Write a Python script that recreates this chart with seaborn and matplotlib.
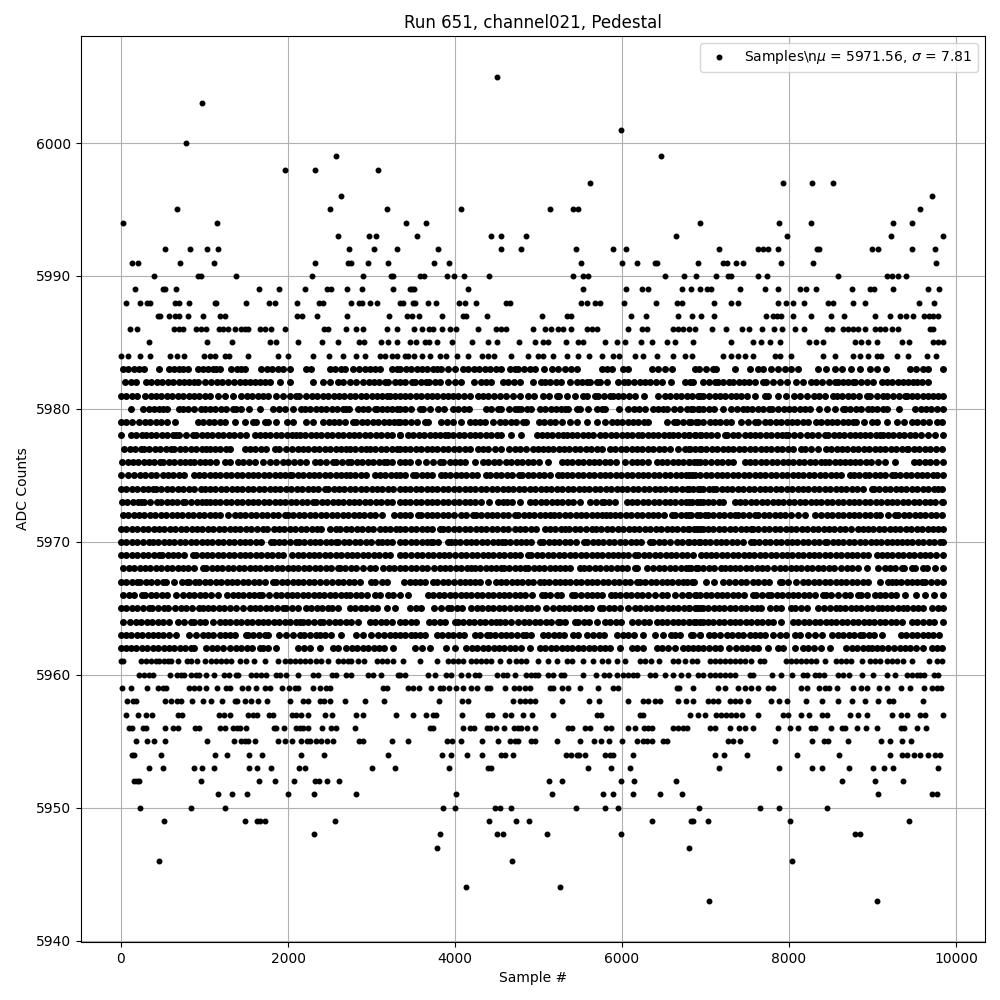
import pandas as pd
import matplotlib
matplotlib.use("Agg")
import matplotlib.pyplot as plt
import seaborn as sns

# Values. Sparse rows are dot by dot, the dense rows
# (5962-5983) are estimates that follow the runs and gaps seen in each row.

row_6005 = [4504]
row_6003 = [968]
row_6001 = [5992]
row_6000 = [776]
row_5999 = [2576, 6472]
row_5998 = [1964, 2324, 3080]
row_5997 = [5620, 7928, 8276, 8528]
row_5996 = [2636, 9716]
row_5995 = [668, 2504, 3188, 4072, 5140, 5416, 5476, 9572]
row_5994 = [20, 1148, 3412, 3652, 6932, 7880, 8264, 9248, 9476]
row_5993 = [2600, 2972, 3056, 3544, 4432, 4552, 4852, 6652, 7976, 9224, 9850]
row_5992 = [524, 824, 1028, 1160, 2732, 3032, 3308, 3796, 4552, 4792, 5452, 5896, 6052, 7160, 7628, 7688, 7748,
            7868, 8330, 8360, 8996, 9068, 9476, 9752]
row_5991 = [128, 200, 704, 1112, 2324, 2720, 2760, 2960, 3200, 3748, 3928, 5512, 6004, 6184, 6396, 6424, 6904,
            7208, 7256, 7364, 7448, 7904, 8288, 9764]
row_5990 = [392, 920, 960, 1376, 2288, 2900, 3232, 3260, 3584, 3624, 3904, 3988, 4108, 4408, 5416, 5536, 5596,
            6520, 6748, 6892, 7128, 7268, 7308, 7628, 7736, 8588, 9176, 9236, 9308, 9404]
row_5989 = [164, 500, 532, 656, 1652, 1892, 2204, 2468, 2516, 2708, 2888, 3260, 3456, 3484, 3512, 4156, 5536,
            6052, 6244, 6316, 6724, 6832, 6928, 7016, 7064, 7412, 7712, 7868, 8132, 8204, 8324, 8756, 8968, 9016,
            9248, 9668, 9800]
row_5988 = [56, 224, 308, 348, 652, 700, 812, 1124, 1136, 1496, 1772, 1844, 2108, 2372, 2420, 2756, 2852, 2892,
            2984, 3068, 3336, 3376, 3496, 3524, 3676, 3772, 4048, 4120, 4252, 4608, 4656, 5512, 5584, 5680, 5740,
            6028, 6412, 6664, 6724, 7100, 7304, 7392, 7868, 7960, 8048, 8180, 8468, 8528, 8768, 8912, 9560, 9740]
row_5987 = [440, 468, 572, 644, 692, 800, 980, 1184, 1244, 2108, 2168, 2348, 2708, 3212, 3424, 3488, 3568, 3844,
            4096, 4136, 4384, 5044, 5344, 5392, 6112, 6292, 6676, 6844, 6948, 7096, 7728, 7808, 7856, 7908, 8048,
            8264, 8504, 8660, 9032, 9212, 9328, 9400, 9480, 9616, 9680, 9728, 9788]
row_5986 = [104, 188, 632, 700, 740, 900, 960, 1020, 1172, 1220, 1280, 1364, 1436, 1484, 1520, 1664, 1724, 1796,
            1964, 2432, 2480, 2692, 2816, 2900, 3188, 3308, 3504, 3600, 3688, 3736, 3844, 3940, 4012, 4276, 4492,
            4552, 4612, 4936, 5080, 5152, 5236, 5296, 5392, 5576, 5636, 5696, 6076, 6236, 6296, 6608, 6668, 6728,
            6808, 6880, 7076, 7244, 7436, 7520, 7676, 7820, 7916, 8072, 8180, 8456, 8516, 8648, 8708, 8768, 8828,
            8912, 9028, 9088, 9148, 9228, 9308, 9688, 9728]
row_5985 = [340, 1028, 1328, 1780, 1852, 2120, 2408, 2600, 2852, 2912, 3116, 3200, 3308, 3456, 3536, 3636, 3688,
            3788, 3964, 4204, 4396, 4504, 4768, 4956, 5056, 5116, 5332, 5476, 5536, 5796, 5944, 6040, 6232, 6356,
            6544, 6640, 6856, 7308, 7568, 7664, 7772, 7896, 8240, 8320, 8408, 8788, 8868, 8948, 9056, 9352, 9436,
            9720, 9788, 9850]
row_5984 = [0, 80, 224, 344, 584, 668, 760, 992, 1060, 1120, 1244, 1292, 1520, 1880, 2000, 2300, 2492, 2660, 2816,
            2924, 3100, 3160, 3240, 3300, 3396, 3436, 3508, 3604, 3700, 3816, 3896, 4024, 4156, 4324, 4396, 4468,
            4672, 4876, 4996, 5056, 5176, 5336, 5476, 5604, 5764, 5896, 5968, 6156, 6256, 6424, 6616, 6756, 6836,
            7208, 7308, 7388, 7468, 7568, 7828, 7888, 8028, 8408, 8548, 8768, 8848, 8948, 9048, 9096, 9288, 9428,
            9648, 9760]
row_5983 = [20, 85, 150, 215, 280, 452, 580, 640, 700, 740, 800, 920, 980, 1045, 1100, 1140, 1180, 1320, 1385, 1440,
            1480, 1680, 1745, 1810, 1875, 1940, 2020, 2220, 2280, 2500, 2565, 2630, 2680, 2780, 2850, 2920, 2980, 3040,
            3100, 3240, 3300, 3340, 3410, 3476, 3540, 3605, 3670, 3735, 3790, 3836, 3916, 3996, 4096, 4160, 4225,
            4290, 4355, 4420, 4490, 4556, 4656, 4716, 4756, 4825, 4896, 4956, 5064, 5156, 5236, 5316, 5385, 5456, 5756,
            5816, 5876, 6016, 6076, 6356, 6436, 6516, 6596, 6876, 6916, 7008, 7088, 7128, 7356, 7528, 7628, 7688,
            7780, 7868, 7950, 8028, 8108, 8348, 8448, 8548, 8640, 8740, 8848, 8968, 9048, 9160, 9448, 9520, 9600, 9668,
            9848]
row_5982 = [48, 120, 180, 300, 365, 430, 495, 560, 625, 690, 755, 820, 870, 920, 1008, 1080, 1150, 1215, 1280, 1350,
            1420, 1480, 1545, 1610, 1665, 1720, 1788, 1904, 2024, 2300, 2420, 2500, 2600, 2660, 2740, 2820, 2900, 2965,
            3030, 3095, 3160, 3200, 3280, 3340, 3400, 3488, 3516, 3590, 3656, 3688, 3756, 3820, 3916, 3996, 4076, 4224,
            4308, 4376, 4436, 4576, 4640, 4710, 4776, 4936, 5028, 5076, 5140, 5205, 5268, 5376, 5456, 5520, 5576, 5616,
            5696, 5736, 5824, 5956, 6024, 6076, 6140, 6210, 6275, 6340, 6410, 6476, 6592, 6756, 6848, 6816, 6968, 7040,
            7108, 7148, 7215, 7280, 7328, 7395, 7460, 7525, 7590, 7688, 7720, 7808, 7888, 7976, 8080, 8168, 8264, 8328,
            8400, 8475, 8548, 8588, 8650, 8710, 8768, 8788, 8860, 8935, 9008, 9108, 9168, 9235, 9300, 9365, 9430, 9488,
            9528, 9588, 9668]
row_5981 = [0, 65, 130, 188, 292, 355, 420, 485, 550, 615, 680, 745, 810, 875, 940, 1005, 1070, 1160, 1240, 1340,
            1440, 1505, 1570, 1635, 1700, 1765, 1860, 1940, 2020, 2100, 2132, 2220, 2285, 2350, 2415, 2480, 2545, 2610,
            2675, 2740, 2805, 2870, 2935, 3000, 3065, 3130, 3180, 3220, 3280, 3340, 3400, 3465, 3530, 3595, 3660, 3725,
            3790, 3855, 3920, 3976, 4040, 4110, 4175, 4276, 4336, 4396, 4470, 4540, 4616, 4696, 4780, 4876, 4948, 5056,
            5130, 5216, 5248, 5336, 5436, 5536, 5576, 5676, 5716, 5785, 5856, 5896, 5956, 6008, 6085, 6160, 6268, 6436,
            6516, 6580, 6645, 6710, 6775, 6840, 6905, 6936, 6970, 7040, 7108, 7168, 7235, 7300, 7365, 7430, 7496, 7588,
            7708, 7748, 7868, 7968, 8060, 8136, 8212, 8296, 8365, 8430, 8524, 8576, 8640, 8705, 8770, 8835, 8928, 8972,
            9048, 9128, 9176, 9245, 9315, 9388, 9416, 9468, 9535, 9600, 9665, 9728, 9788, 9850]
row_5980 = [120, 260, 332, 395, 452, 500, 552, 692, 740, 805, 870, 960, 1000, 1065, 1130, 1195, 1260, 1340, 1372, 1440,
            1532, 1664, 1820, 1890, 1960, 2060, 2152, 2200, 2265, 2330, 2395, 2460, 2525, 2590, 2655, 2700, 2732, 2840,
            2900, 2960, 3040, 3060, 3125, 3188, 3240, 3300, 3340, 3405, 3470, 3576, 3616, 3696, 3796, 3868, 3976, 4040,
            4105, 4168, 4368, 4436, 4516, 4556, 4648, 4716, 4756, 4796, 4860, 4912, 5016, 5080, 5145, 5210, 5275, 5316,
            5356, 5456, 5496, 5596, 5696, 5756, 5796, 5968, 6076, 6140, 6205, 6270, 6376, 6436, 6496, 6536, 6620, 6696,
            6776, 6850, 6916, 6828, 6908, 6975, 7040, 7105, 7208, 7308, 7380, 7448, 7496, 7560, 7625, 7690, 7755, 7800,
            7868, 7935, 8000, 8065, 8130, 8188, 8256, 8360, 8456, 8548, 8648, 8668, 8735, 8800, 8865, 8948, 8988, 9055,
            9120, 9168, 9320, 9508, 9575, 9640, 9705, 9770, 9850]
row_5979 = [0, 65, 132, 220, 285, 348, 420, 485, 550, 652, 920, 985, 1050, 1115, 1180, 1240, 1360, 1484, 1580, 1616,
            1720, 1760, 1860, 1988, 2060, 2212, 2300, 2420, 2485, 2550, 2615, 2680, 2780, 2820, 2885, 2950, 3015, 3080,
            3145, 3210, 3275, 3320, 3336, 3400, 3475, 3544, 3636, 3676, 3832, 3900, 3976, 4072, 4176, 4240, 4296, 4356,
            4456, 4536, 4600, 4665, 4730, 4816, 4856, 5004, 5070, 5135, 5200, 5276, 5376, 5456, 5576, 5696, 5796, 5876,
            5940, 6005, 6070, 6136, 6196, 6260, 6316, 6536, 6628, 6656, 6736, 6824, 6904, 6808, 6888, 6970, 7048, 7108,
            7175, 7240, 7308, 7428, 7510, 7588, 7632, 7708, 7775, 7840, 7905, 7970, 8035, 8100, 8165, 8228, 8320, 8385,
            8450, 8515, 8580, 8645, 8710, 8768, 8808, 8900, 8988, 9048, 9168, 9288, 9380, 9468, 9528, 9600, 9680, 9768,
            9836]
row_5978 = [0, 120, 185, 250, 300, 360, 425, 490, 555, 620, 660, 700, 780, 860, 900, 965, 1030, 1095, 1160, 1225, 1290,
            1355, 1420, 1500, 1600, 1660, 1725, 1790, 1855, 1920, 1985, 2050, 2100, 2140, 2205, 2270, 2335, 2400, 2465,
            2530, 2595, 2660, 2725, 2790, 2855, 2920, 2985, 3050, 3115, 3180, 3245, 3340, 3336, 3436, 3500, 3565, 3630,
            3695, 3760, 3825, 3876, 3916, 3980, 4045, 4110, 4175, 4240, 4305, 4370, 4435, 4500, 4556, 4676, 4796, 4976,
            5036, 5096, 5165, 5230, 5296, 5336, 5400, 5465, 5530, 5595, 5656, 5736, 5800, 5865, 5930, 5995, 6060, 6125,
            6196, 6236, 6316, 6376, 6436, 6500, 6565, 6608, 6676, 6740, 6805, 6870, 6936, 6808, 6875, 6940, 7005, 7070,
            7135, 7228, 7256, 7325, 7390, 7468, 7528, 7593, 7658, 7723, 7788, 7853, 7918, 7968, 7988, 8055, 8128, 8216,
            8280, 8345, 8428, 8468, 8533, 8598, 8663, 8728, 8793, 8848, 8908, 8975, 9040, 9088, 9120, 9185, 9250, 9315,
            9380, 9445, 9510, 9575, 9668, 9748, 9848]
row_5977 = [40, 105, 170, 235, 280, 340, 405, 470, 535, 600, 640, 705, 770, 835, 900, 965, 1020, 1060, 1125, 1190, 1255,
            1300, 1480, 1545, 1610, 1675, 1740, 1840, 1892, 1972, 2044, 2124, 2180, 2245, 2310, 2375, 2440, 2505, 2570,
            2635, 2700, 2740, 2805, 2870, 2940, 2980, 3045, 3110, 3175, 3240, 3300, 3336, 3400, 3465, 3530, 3595, 3660,
            3725, 3790, 3855, 3920, 3985, 4050, 4115, 4180, 4276, 4336, 4396, 4476, 4556, 4648, 4716, 4784, 4850, 4936,
            4996, 5055, 5116, 5176, 5240, 5305, 5370, 5435, 5500, 5565, 5630, 5695, 5756, 5856, 5920, 5985, 6050, 6115,
            6180, 6245, 6310, 6375, 6440, 6505, 6570, 6676, 6756, 6816, 6880, 6936, 6808, 6945, 7010, 7075, 7140, 7205,
            7270, 7335, 7400, 7465, 7530, 7595, 7660, 7725, 7790, 7855, 7920, 7985, 8050, 8148, 8196, 8268, 8348, 8440,
            8505, 8570, 8635, 8700, 8765, 8830, 8895, 8960, 9025, 9090, 9155, 9220, 9285, 9350, 9408, 9428, 9495, 9560,
            9625, 9690, 9755, 9828]
row_5976 = [8, 80, 140, 205, 270, 335, 400, 465, 508, 572, 640, 705, 770, 828, 880, 945, 1010, 1060, 1136, 1240, 1300,
            1400, 1465, 1530, 1600, 1700, 1780, 1860, 1940, 2005, 2070, 2140, 2220, 2320, 2380, 2460, 2540, 2580, 2650,
            2720, 2760, 2825, 2890, 2955, 3020, 3085, 3150, 3180, 3240, 3340, 3400, 3465, 3556, 3648, 3735, 3816, 3856,
            3935, 3995, 4056, 4116, 4236, 4336, 4400, 4465, 4530, 4616, 4676, 4740, 4805, 4870, 4936, 5008, 5116, 5276,
            5340, 5405, 5470, 5535, 5600, 5665, 5730, 5795, 5860, 5925, 6036, 6116, 6180, 6245, 6310, 6416, 6476, 6540,
            6605, 6670, 6735, 6800, 6865, 6936, 6808, 6900, 6988, 7068, 7135, 7200, 7265, 7328, 7468, 7533, 7598, 7663,
            7728, 7793, 7858, 7923, 7988, 8053, 8118, 8183, 8248, 8313, 8378, 8428, 8480, 8545, 8610, 8675, 8728, 8788,
            8853, 8918, 8983, 9068, 9148, 9268, 9496, 9560, 9625, 9690, 9755, 9848]
row_5975 = [0, 80, 160, 225, 290, 355, 420, 500, 560, 625, 690, 755, 880, 930, 995, 1060, 1125, 1190, 1255, 1320, 1385,
            1450, 1515, 1580, 1645, 1710, 1775, 1840, 1905, 1970, 2020, 2052, 2117, 2182, 2247, 2312, 2377, 2442, 2507,
            2572, 2637, 2700, 2740, 2805, 2870, 2935, 3040, 3100, 3165, 3230, 3295, 3340, 3400, 3496, 3536, 3600, 3665,
            3730, 3836, 3876, 3941, 4006, 4071, 4136, 4201, 4266, 4376, 4424, 4489, 4554, 4619, 4684, 4768, 4808, 4873,
            4938, 5003, 5068, 5133, 5236, 5276, 5341, 5406, 5471, 5536, 5601, 5666, 5731, 5796, 5861, 5926, 5991, 6056,
            6121, 6186, 6251, 6316, 6381, 6446, 6511, 6576, 6641, 6706, 6771, 6836, 6936, 6808, 6873, 7003, 7068, 7133,
            7198, 7263, 7328, 7393, 7458, 7523, 7588, 7653, 7718, 7783, 7848, 7913, 7978, 8043, 8108, 8173, 8238, 8303,
            8368, 8433, 8498, 8563, 8628, 8728, 8776, 8840, 8908, 8960, 9025, 9090, 9155, 9228, 9268, 9333, 9398, 9463,
            9528, 9593, 9658, 9723, 9768, 9840]
row_5974 = [0, 65, 130, 195, 260, 325, 388, 420, 485, 550, 615, 680, 745, 810, 875, 960, 1000, 1065, 1130, 1195, 1260,
            1325, 1390, 1455, 1520, 1585, 1650, 1715, 1780, 1845, 1910, 1975, 2040, 2105, 2170, 2235, 2300, 2365, 2440,
            2480, 2545, 2610, 2675, 2740, 2805, 2870, 2935, 3000, 3065, 3130, 3195, 3260, 3340, 3400, 3465, 3530, 3595,
            3660, 3725, 3790, 3855, 3920, 3985, 4050, 4115, 4180, 4245, 4310, 4375, 4440, 4505, 4570, 4635, 4700, 4765,
            4830, 4895, 4960, 5025, 5090, 5155, 5220, 5285, 5350, 5415, 5480, 5545, 5610, 5675, 5740, 5805, 5870, 5935,
            6000, 6065, 6130, 6195, 6260, 6325, 6390, 6455, 6520, 6585, 6650, 6715, 6780, 6845, 6936, 6808, 6910, 6975,
            7040, 7088, 7128, 7193, 7258, 7323, 7388, 7453, 7518, 7583, 7648, 7713, 7778, 7843, 7908, 7973, 8038, 8103,
            8168, 8233, 8298, 8363, 8428, 8493, 8558, 8623, 8688, 8753, 8818, 8883, 8988, 9016, 9081, 9146, 9211, 9276,
            9341, 9406, 9471, 9536, 9601, 9666, 9731, 9788, 9836]
row_5973 = [12, 75, 140, 205, 240, 280, 350, 428, 480, 545, 610, 675, 740, 772, 840, 905, 970, 1020, 1060, 1125, 1190,
            1255, 1320, 1385, 1450, 1515, 1580, 1645, 1710, 1775, 1840, 1905, 1970, 2035, 2100, 2165, 2230, 2300, 2340,
            2405, 2470, 2535, 2600, 2660, 2725, 2790, 2855, 2920, 2985, 3050, 3115, 3180, 3245, 3340, 3400, 3465, 3530,
            3595, 3660, 3725, 3790, 3855, 3920, 3985, 4050, 4115, 4180, 4245, 4310, 4408, 4516, 4570, 4624, 4684, 4780,
            4896, 4961, 5026, 5091, 5156, 5221, 5286, 5351, 5416, 5496, 5616, 5685, 5756, 5784, 5850, 5916, 6056, 6120,
            6185, 6250, 6315, 6380, 6445, 6510, 6575, 6640, 6705, 6770, 6835, 6936, 6808, 6900, 6965, 7030, 7095, 7160,
            7208, 7348, 7413, 7478, 7543, 7608, 7673, 7738, 7803, 7868, 7933, 7998, 8063, 8128, 8193, 8258, 8323, 8388,
            8453, 8518, 8583, 8648, 8713, 8778, 8843, 8908, 8973, 9038, 9103, 9168, 9233, 9298, 9363, 9428, 9493, 9558,
            9623, 9688, 9753, 9828, 9850]
row_5972 = [20, 85, 150, 215, 280, 345, 410, 475, 540, 605, 670, 735, 800, 865, 930, 995, 1060, 1125, 1190, 1280, 1360,
            1425, 1490, 1555, 1620, 1685, 1750, 1815, 1880, 1960, 2000, 2065, 2130, 2195, 2260, 2325, 2400, 2460, 2525,
            2590, 2655, 2720, 2785, 2850, 2915, 2980, 3045, 3120, 3268, 3340, 3400, 3465, 3556, 3596, 3660, 3725, 3790,
            3855, 3920, 3985, 4076, 4128, 4216, 4248, 4313, 4378, 4443, 4508, 4573, 4638, 4716, 4756, 4821, 4886, 4951,
            5016, 5081, 5136, 5184, 5249, 5314, 5379, 5444, 5509, 5574, 5639, 5704, 5756, 5808, 5856, 5916, 5981, 6046,
            6111, 6176, 6241, 6306, 6371, 6436, 6501, 6596, 6636, 6701, 6766, 6831, 6936, 6808, 6896, 6988, 7028, 7093,
            7158, 7223, 7288, 7348, 7388, 7453, 7518, 7588, 7632, 7697, 7762, 7827, 7892, 7957, 8022, 8108, 8188, 8312,
            8388, 8453, 8518, 8583, 8648, 8713, 8778, 8843, 8908, 8973, 9038, 9088, 9188, 9268, 9308, 9373, 9438, 9503,
            9568, 9633, 9698, 9763, 9828]
row_5971 = [0, 65, 130, 195, 260, 325, 390, 455, 520, 585, 650, 715, 780, 845, 910, 975, 1040, 1105, 1170, 1235, 1300,
            1365, 1430, 1495, 1560, 1625, 1700, 1748, 1828, 1893, 1958, 2023, 2088, 2153, 2218, 2283, 2348, 2400, 2500,
            2572, 2628, 2693, 2758, 2823, 2888, 2953, 3018, 3100, 3160, 3225, 3290, 3340, 3405, 3470, 3535, 3600, 3665,
            3730, 3816, 3856, 3921, 3986, 4051, 4116, 4181, 4246, 4311, 4376, 4441, 4506, 4571, 4636, 4716, 4776, 4841,
            4906, 4971, 5076, 5136, 5201, 5266, 5316, 5368, 5433, 5498, 5563, 5636, 5688, 5753, 5818, 5883, 5948, 6013,
            6078, 6143, 6208, 6273, 6338, 6403, 6468, 6533, 6598, 6663, 6728, 6793, 6858, 6936, 6808, 6900, 6965, 7030,
            7095, 7160, 7225, 7290, 7355, 7420, 7485, 7548, 7568, 7633, 7698, 7763, 7828, 7893, 7958, 8023, 8088, 8153,
            8218, 8283, 8348, 8413, 8478, 8543, 8608, 8673, 8738, 8828, 8880, 8945, 9010, 9075, 9140, 9205, 9270, 9335,
            9400, 9465, 9530, 9595, 9660, 9725, 9790, 9850]
row_5970 = [0, 65, 130, 195, 260, 332, 380, 445, 510, 575, 640, 705, 770, 835, 900, 965, 1030, 1095, 1160, 1225, 1290,
            1355, 1420, 1485, 1550, 1615, 1680, 1800, 1828, 1893, 1958, 2023, 2100, 2128, 2193, 2258, 2323, 2388, 2453,
            2518, 2572, 2604, 2669, 2734, 2799, 2864, 2929, 2994, 3080, 3120, 3185, 3250, 3340, 3405, 3470, 3535, 3600,
            3665, 3716, 3736, 3801, 3916, 3956, 3996, 4061, 4126, 4191, 4256, 4321, 4386, 4451, 4516, 4568, 4596, 4661,
            4726, 4791, 4856, 4908, 5016, 5056, 5121, 5186, 5251, 5316, 5381, 5446, 5544, 5584, 5648, 5713, 5778, 5843,
            5908, 5973, 6038, 6103, 6168, 6233, 6336, 6376, 6441, 6506, 6571, 6664, 6716, 6796, 6860, 6936, 6808, 6925,
            6990, 7055, 7120, 7185, 7250, 7315, 7380, 7445, 7540, 7580, 7645, 7710, 7775, 7840, 7905, 7970, 8035, 8100,
            8165, 8230, 8295, 8360, 8428, 8456, 8521, 8586, 8651, 8716, 8781, 8846, 8911, 8976, 9041, 9106, 9171, 9236,
            9296, 9348, 9413, 9478, 9543, 9608, 9673, 9738, 9803, 9848]
row_5969 = [0, 65, 130, 195, 260, 325, 390, 460, 492, 557, 622, 687, 752, 868, 900, 965, 1030, 1095, 1160, 1225, 1290,
            1355, 1420, 1485, 1550, 1615, 1680, 1745, 1810, 1875, 1940, 2052, 2117, 2182, 2247, 2312, 2377, 2442, 2507,
            2572, 2637, 2702, 2767, 2832, 2897, 2962, 3027, 3092, 3157, 3222, 3340, 3405, 3476, 3544, 3609, 3674, 3739,
            3804, 3869, 3934, 3999, 4076, 4136, 4201, 4266, 4331, 4396, 4456, 4524, 4589, 4654, 4719, 4784, 4876, 4916,
            4981, 5046, 5111, 5176, 5241, 5306, 5376, 5441, 5506, 5571, 5636, 5701, 5766, 5831, 5896, 5956, 6008, 6073,
            6156, 6196, 6261, 6326, 6391, 6456, 6521, 6586, 6651, 6716, 6776, 6856, 6948, 7000, 7065, 7130, 7195, 7260,
            7325, 7390, 7455, 7520, 7585, 7650, 7715, 7780, 7845, 7910, 7975, 8040, 8105, 8170, 8235, 8300, 8365, 8430,
            8495, 8560, 8625, 8690, 8755, 8820, 8885, 8950, 9048, 9108, 9173, 9238, 9303, 9368, 9433, 9498, 9563, 9628,
            9693, 9758, 9850]
row_5968 = [20, 92, 157, 222, 287, 352, 417, 482, 547, 612, 677, 742, 807, 872, 980, 1020, 1085, 1150, 1215, 1280, 1345,
            1410, 1475, 1540, 1605, 1670, 1735, 1800, 1865, 1930, 1995, 2060, 2125, 2190, 2255, 2320, 2385, 2450, 2515,
            2600, 2620, 2685, 2750, 2815, 2900, 2980, 3040, 3140, 3205, 3270, 3340, 3405, 3470, 3535, 3600, 3665, 3744,
            3816, 3881, 3946, 4011, 4076, 4141, 4196, 4236, 4301, 4366, 4431, 4496, 4556, 4584, 4649, 4714, 4779, 4836,
            4876, 4941, 5006, 5071, 5136, 5201, 5256, 5316, 5381, 5496, 5544, 5609, 5674, 5739, 5804, 5869, 5934, 5999,
            6064, 6156, 6184, 6304, 6376, 6441, 6506, 6571, 6636, 6701, 6766, 6831, 6896, 6808, 6888, 6908, 6973, 7038,
            7103, 7188, 7228, 7293, 7356, 7416, 7481, 7546, 7611, 7676, 7741, 7820, 7888, 7953, 8018, 8083, 8148, 8213,
            8278, 8343, 8408, 8473, 8538, 8628, 8693, 8758, 8823, 8928, 9068, 9148, 9208, 9273, 9348, 9376, 9468, 9508,
            9600, 9656, 9748, 9850]
row_5967 = [0, 65, 130, 188, 232, 297, 362, 427, 500, 540, 632, 728, 793, 820, 888, 940, 1005, 1070, 1135, 1200, 1265,
            1330, 1395, 1460, 1525, 1590, 1655, 1720, 1820, 1860, 1925, 1990, 2055, 2120, 2185, 2250, 2315, 2380, 2460,
            2532, 2597, 2662, 2727, 2792, 2857, 2992, 3040, 3120, 3188, 3384, 3456, 3520, 3584, 3636, 3736, 3788, 3853,
            3918, 3983, 4056, 4116, 4184, 4236, 4301, 4396, 4496, 4548, 4613, 4678, 4743, 4808, 4873, 4938, 5016, 5064,
            5129, 5194, 5256, 5316, 5381, 5446, 5511, 5576, 5641, 5706, 5771, 5836, 5901, 5966, 6031, 6096, 6176, 6216,
            6281, 6346, 6411, 6476, 6536, 6601, 6666, 6731, 6784, 6844, 6868, 7008, 7100, 7208, 7280, 7356, 7420, 7488,
            7568, 7633, 7698, 7763, 7888, 7920, 7985, 8088, 8168, 8233, 8298, 8363, 8428, 8493, 8558, 8623, 8688, 8753,
            8818, 8883, 8948, 9088, 9188, 9228, 9280, 9345, 9410, 9468, 9528, 9588, 9628, 9700, 9775, 9850]
row_5966 = [28, 93, 158, 252, 292, 357, 422, 487, 552, 660, 748, 813, 878, 943, 1008, 1073, 1160, 1272, 1337, 1402,
            1467, 1532, 1597, 1652, 1688, 1772, 1852, 1917, 1982, 2047, 2112, 2177, 2242, 2307, 2372, 2437, 2502, 2567,
            2632, 2697, 2740, 2812, 2877, 2942, 3040, 3100, 3200, 3260, 3340, 3436, 3676, 3741, 3806, 3871, 3936, 4001,
            4066, 4131, 4196, 4261, 4326, 4391, 4456, 4521, 4586, 4651, 4716, 4781, 4836, 4928, 5036, 5076, 5141, 5216,
            5268, 5396, 5436, 5505, 5576, 5636, 5696, 5756, 5864, 5916, 5981, 6046, 6111, 6176, 6241, 6306, 6396, 6476,
            6541, 6636, 6716, 6796, 6888, 6808, 6873, 6938, 7003, 7068, 7133, 7198, 7263, 7328, 7393, 7458, 7568, 7600,
            7680, 7748, 7788, 7853, 7918, 7983, 8048, 8113, 8178, 8243, 8308, 8408, 8448, 8508, 8588, 8668, 8728, 8828,
            8868, 8928, 9028, 9088, 9153, 9218, 9283, 9388, 9520, 9628, 9740, 9848]
row_5965 = [0, 65, 130, 195, 260, 340, 372, 445, 520, 560, 652, 717, 782, 847, 932, 980, 1040, 1105, 1170, 1235, 1300,
            1380, 1460, 1540, 1605, 1670, 1735, 1800, 1865, 1940, 1980, 2045, 2120, 2220, 2280, 2345, 2410, 2475, 2532,
            2604, 2740, 2805, 2870, 2935, 3000, 3060, 3180, 3280, 3464, 3528, 3596, 3748, 3830, 3916, 3956, 4021, 4086,
            4196, 4264, 4329, 4394, 4459, 4524, 4589, 4654, 4736, 4796, 4864, 4916, 4976, 5088, 5176, 5241, 5306, 5371,
            5436, 5501, 5566, 5631, 5736, 5776, 5841, 5906, 5971, 6076, 6156, 6221, 6286, 6351, 6416, 6481, 6546, 6611,
            6676, 6741, 6806, 6871, 6936, 6808, 6901, 6966, 7031, 7096, 7161, 7226, 7291, 7356, 7421, 7486, 7551, 7616,
            7668, 7768, 7840, 7905, 8028, 8076, 8148, 8213, 8348, 8420, 8488, 8568, 8608, 8673, 8738, 8803, 8868, 8928,
            8993, 9068, 9108, 9173, 9238, 9303, 9368, 9416, 9481, 9546, 9608, 9708, 9788, 9848]
row_5964 = [28, 108, 180, 245, 310, 375, 440, 505, 570, 680, 760, 840, 880, 945, 1010, 1100, 1180, 1245, 1310, 1375,
            1440, 1505, 1570, 1635, 1700, 1765, 1830, 1895, 1960, 2025, 2090, 2140, 2180, 2245, 2310, 2380, 2420, 2490,
            2560, 2628, 2693, 2758, 2840, 2980, 3045, 3110, 3175, 3240, 3340, 3405, 3476, 3536, 3688, 3753, 3818, 3883,
            3996, 4036, 4101, 4166, 4231, 4296, 4361, 4426, 4496, 4536, 4601, 4666, 4756, 4824, 4889, 4954, 5019, 5084,
            5149, 5236, 5256, 5321, 5436, 5476, 5541, 5606, 5696, 5796, 5861, 5926, 5991, 6116, 6196, 6261, 6326, 6416,
            6476, 6541, 6606, 6671, 6736, 6801, 6866, 6936, 6808, 6888, 6968, 7028, 7093, 7158, 7223, 7288, 7353, 7418,
            7483, 7548, 7613, 7678, 7743, 7808, 7908, 8048, 8113, 8178, 8243, 8308, 8373, 8438, 8503, 8568, 8633, 8698,
            8763, 8828, 8893, 8958, 9023, 9088, 9153, 9218, 9283, 9348, 9468, 9536, 9608, 9673, 9738, 9850]
row_5963 = [0, 60, 125, 190, 255, 320, 385, 440, 500, 580, 660, 812, 900, 988, 1040, 1105, 1180, 1240, 1305, 1370, 1500,
            1520, 1585, 1650, 1720, 1760, 1892, 1980, 2060, 2140, 2188, 2260, 2340, 2380, 2445, 2510, 2640, 2820, 2900,
            2988, 3080, 3150, 3220, 3280, 3340, 3405, 3476, 3516, 3581, 3646, 3784, 3848, 3913, 3978, 4043, 4108, 4236,
            4296, 4384, 4416, 4481, 4546, 4611, 4676, 4741, 4816, 4856, 4916, 5056, 5116, 5181, 5246, 5311, 5416, 5476,
            5576, 5656, 5720, 5784, 5936, 6008, 6073, 6138, 6256, 6396, 6490, 6584, 6636, 6696, 6856, 6936, 6828, 6928,
            7040, 7105, 7170, 7256, 7320, 7385, 7450, 7536, 7588, 7653, 7718, 7808, 7888, 7960, 8068, 8128, 8228, 8308,
            8396, 8520, 8585, 8650, 8715, 8780, 8848, 8888, 8953, 9018, 9108, 9340, 9405, 9470, 9535, 9600, 9665, 9730,
            9800]
row_5962 = [0, 60, 120, 185, 250, 315, 380, 445, 510, 575, 640, 705, 770, 835, 880, 1020, 1085, 1150, 1220, 1308, 1373,
            1438, 1503, 1568, 1660, 1700, 1765, 1860, 2120, 2190, 2260, 2388, 2540, 2600, 2700, 2765, 2830, 2895, 2960,
            3025, 3090, 3155, 3260, 3516, 3600, 3696, 3896, 3996, 4136, 4201, 4266, 4331, 4396, 4461, 4526, 4591, 4656,
            4721, 4786, 4896, 5016, 5081, 5146, 5211, 5276, 5341, 5406, 5471, 5536, 5601, 5666, 5731, 5796, 5861, 5976,
            6116, 6176, 6256, 6416, 6480, 6545, 6636, 6736, 6795, 6856, 6908, 6973, 7038, 7108, 7168, 7280, 7368, 7433,
            7498, 7563, 7628, 7748, 7868, 7933, 8068, 8168, 8233, 8298, 8388, 8488, 8688, 8753, 8818, 8883, 8948, 8988,
            9053, 9108, 9188, 9253, 9328, 9388, 9453, 9518, 9608, 9708, 9770, 9828]
row_5961 = [0, 28, 240, 300, 360, 420, 460, 520, 560, 600, 680, 788, 840, 908, 1004, 1080, 1140, 1200, 1260, 1320, 1420,
            1500, 1596, 1728, 1880, 1960, 2020, 2080, 2140, 2200, 2260, 2340, 2400, 2480, 2600, 2660, 2720, 2760, 2840,
            2912, 3060, 3120, 3180, 3260, 3376, 3576, 3780, 3916, 3976, 4036, 4096, 4196, 4256, 4316, 4376, 4436, 4536,
            4648, 4736, 4796, 4856, 4996, 5116, 5224, 5336, 5396, 5536, 5656, 5756, 5836, 5936, 6036, 6216, 6276, 6344,
            6448, 6616, 6676, 6756, 6836, 6896, 7048, 7108, 7168, 7228, 7288, 7348, 7408, 7468, 7548, 7648, 7696, 7968,
            8028, 8088, 8148, 8208, 8268, 8328, 8428, 8568, 8628, 8688, 8748, 8876, 8968, 9028, 9088, 9168, 9228, 9288,
            9368, 9476, 9680, 9768, 9828]
row_5960 = [220, 280, 340, 380, 584, 668, 720, 760, 840, 900, 940, 1016, 1112, 1232, 1292, 1372, 1400, 1560, 1620, 1680,
            1740, 1852, 1908, 1972, 2120, 2300, 2360, 2528, 2572, 2700, 2760, 2960, 3020, 3116, 3320, 3336, 3396, 3676,
            3760, 3896, 3956, 4072, 4156, 4236, 4288, 4504, 4576, 4624, 4720, 4856, 4916, 4956, 4996, 5116, 5176, 5268,
            5308, 5528, 5688, 5784, 5848, 5944, 6008, 6076, 6136, 6184, 6336, 6400, 6520, 6616, 6712, 6796, 6904, 6968,
            7048, 7108, 7168, 7228, 7288, 7348, 7528, 7568, 7796, 7904, 8036, 8168, 8216, 8308, 8360, 8420, 8588, 8648,
            8720, 8876, 9008, 9176, 9272, 9408, 9468, 9528, 9568, 9620, 9736, 9784]
row_5959 = [8, 116, 308, 440, 500, 540, 812, 872, 932, 1016, 1148, 1260, 1304, 1448, 1520, 1616, 1720, 1780, 1928, 2012,
            2080, 2120, 2300, 2380, 2460, 2508, 3140, 3180, 3436, 3496, 3568, 3716, 3816, 3856, 3928, 4012, 4096, 4192,
            4264, 4384, 4424, 4600, 4708, 4768, 4840, 4900, 5136, 5176, 5284, 5356, 5500, 5716, 5896, 5956, 6656, 6688,
            6856, 7148, 7228, 7388, 7468, 7548, 7628, 7748, 7808, 8148, 8216, 8360, 8428, 8480, 8576, 8768, 8868, 8928,
            9080, 9168, 9336, 9452, 9620, 9708, 9768, 9816]
row_5958 = [68, 140, 180, 524, 596, 668, 720, 852, 980, 1076, 1208, 1364, 1388, 1484, 1556, 1640, 1748, 2024, 2180, 2240,
            2380, 2428, 2504, 2684, 2924, 3152, 3808, 4084, 4156, 4696, 4776, 4836, 4896, 4956, 5280, 5608, 5728, 6076,
            6256, 6316, 6396, 6456, 6668, 6768, 6856, 7028, 7088, 7148, 7288, 7348, 7408, 7508, 7784, 7880, 7976, 8204,
            8396, 8588, 8756, 8912, 9068, 9200, 9248, 9608]
row_5957 = [56, 200, 296, 368, 688, 728, 1172, 1232, 1300, 1520, 1580, 1628, 1772, 1820, 2044, 2100, 2160, 2240, 2444,
            2528, 2816, 2900, 3296, 3496, 3652, 3736, 3776, 4084, 4396, 4444, 4600, 4672, 4816, 4924, 5176, 5696, 5748,
            6216, 6248, 6820, 6904, 6988, 7128, 7188, 7248, 7308, 7368, 7436, 7628, 7928, 7988, 8144, 8240, 8396, 8456,
            8732, 8828, 8936, 9236, 9340, 9408, 9568, 9628, 9850]
row_5956 = [92, 132, 260, 300, 524, 628, 680, 884, 932, 1184, 1244, 1340, 1388, 1424, 1496, 1832, 1860, 1952, 2100, 2140,
            2180, 2240, 2408, 2516, 2576, 2804, 3696, 3736, 4096, 4180, 4228, 4384, 4416, 4496, 4588, 4708, 4756, 4792,
            4864, 4960, 5356, 5396, 5560, 5616, 5808, 5864, 6076, 6160, 6268, 6316, 6364, 6616, 6676, 6728, 6784, 7056,
            7108, 7292, 7400, 7472, 7568, 7868, 8012, 8108, 8264, 8312, 8504, 8636, 8676, 8816, 8924, 9056, 9344, 9376,
            9536, 9644]
row_5955 = [176, 308, 392, 524, 1028, 1352, 1436, 1484, 1520, 1604, 1880, 1960, 2048, 2156, 2228, 2260, 2336, 2396, 2468,
            2540, 2852, 2900, 3248, 3436, 3904, 3964, 4072, 4324, 4516, 4660, 4724, 4760, 4912, 4956, 5224, 5500, 5668,
            5752, 5848, 6004, 6184, 6256, 6304, 6364, 6496, 6536, 7268, 7328, 7408, 7832, 8276, 8420, 8468, 8708, 9104,
            9212, 9356, 9464]
row_5954 = [132, 160, 476, 1128, 1268, 1532, 1688, 2156, 2432, 3200, 3844, 3952, 4144, 4324, 4552, 4596, 4696, 5332, 5392,
            5456, 5488, 5560, 5800, 5856, 5896, 6136, 7112, 7220, 7496, 8096, 8600, 9212, 9356, 9416, 9500, 9572, 9668,
            9748, 9808]
row_5953 = [332, 500, 872, 968, 1112, 1532, 1628, 1796, 2132, 2204, 3008, 3284, 3928, 4396, 4436, 5596, 5872, 6100, 7160,
            7880, 8276, 8396, 8720, 9008, 9140, 9248, 9788]
row_5952 = [160, 190, 212, 956, 1652, 1844, 2072, 2320, 2372, 2468, 2612, 5128, 5284, 5992, 6148, 6652, 8636, 9032, 9368]
row_5951 = [1160, 1328, 1508, 2000, 2312, 2816, 4012, 5164, 5776, 5896, 6136, 6460, 6724, 9068, 9716, 9768]
row_5950 = [224, 836, 1244, 3856, 4000, 4480, 4540, 4672, 5452, 5800, 5956, 6916, 7652, 7880, 8456]
row_5949 = [512, 1484, 1628, 1660, 1724, 2564, 4408, 4732, 4888, 6364, 6828, 6856, 7028, 8012, 9440]
row_5948 = [2312, 3820, 4504, 4576, 5104, 5992, 8792, 8852]
row_5947 = [3784, 6808]
row_5946 = [452, 4684, 8036]
row_5944 = [4132, 5260]
row_5943 = [7040, 9056]

rows = {
    6005: row_6005, 6003: row_6003, 6001: row_6001, 6000: row_6000, 5999: row_5999, 5998: row_5998,
    5997: row_5997, 5996: row_5996, 5995: row_5995, 5994: row_5994, 5993: row_5993, 5992: row_5992,
    5991: row_5991, 5990: row_5990, 5989: row_5989, 5988: row_5988, 5987: row_5987, 5986: row_5986,
    5985: row_5985, 5984: row_5984, 5983: row_5983, 5982: row_5982, 5981: row_5981, 5980: row_5980,
    5979: row_5979, 5978: row_5978, 5977: row_5977, 5976: row_5976, 5975: row_5975, 5974: row_5974,
    5973: row_5973, 5972: row_5972, 5971: row_5971, 5970: row_5970, 5969: row_5969, 5968: row_5968,
    5967: row_5967, 5966: row_5966, 5965: row_5965, 5964: row_5964, 5963: row_5963, 5962: row_5962,
    5961: row_5961, 5960: row_5960, 5959: row_5959, 5958: row_5958, 5957: row_5957, 5956: row_5956,
    5955: row_5955, 5954: row_5954, 5953: row_5953, 5952: row_5952, 5951: row_5951, 5950: row_5950,
    5949: row_5949, 5948: row_5948, 5947: row_5947, 5946: row_5946, 5944: row_5944, 5943: row_5943,
}

samples = [s for adc, xs in rows.items() for s in xs]
counts = [adc for adc, xs in rows.items() for s in xs]
frame = pd.DataFrame({"sample": samples, "adc": counts})
dense = frame["adc"].between(5962, 5983)

fig, ax = plt.subplots(figsize=(10, 10))
sns.lineplot(data=frame[~dense], x="sample", y="adc", color="black", marker=".", markersize=6.5, markeredgecolor="black",
             markeredgewidth=1, linestyle="", estimator=None, sort=False,
             label="Samples\\n$\\mu$ = 5971.56, $\\sigma$ = 7.81", ax=ax)
# the dense rows were read at a coarser step, slightly bigger dots close the runs
sns.lineplot(data=frame[dense], x="sample", y="adc", color="black", marker=".", markersize=8, markeredgecolor="black",
             markeredgewidth=1, linestyle="", estimator=None, sort=False, legend=False, ax=ax)
ax.set_xlim(-479, 10347)
ax.set_ylim(5939.9, 6008.05)
ax.grid(True)
ax.set_title("Run 651, channel021, Pedestal")
ax.set_xlabel("Sample #")
ax.set_ylabel("ADC Counts")
ax.legend(loc="upper right")
fig.subplots_adjust(left=0.081, right=0.985, top=0.964, bottom=0.058)
fig.savefig("out.png", dpi=100)
